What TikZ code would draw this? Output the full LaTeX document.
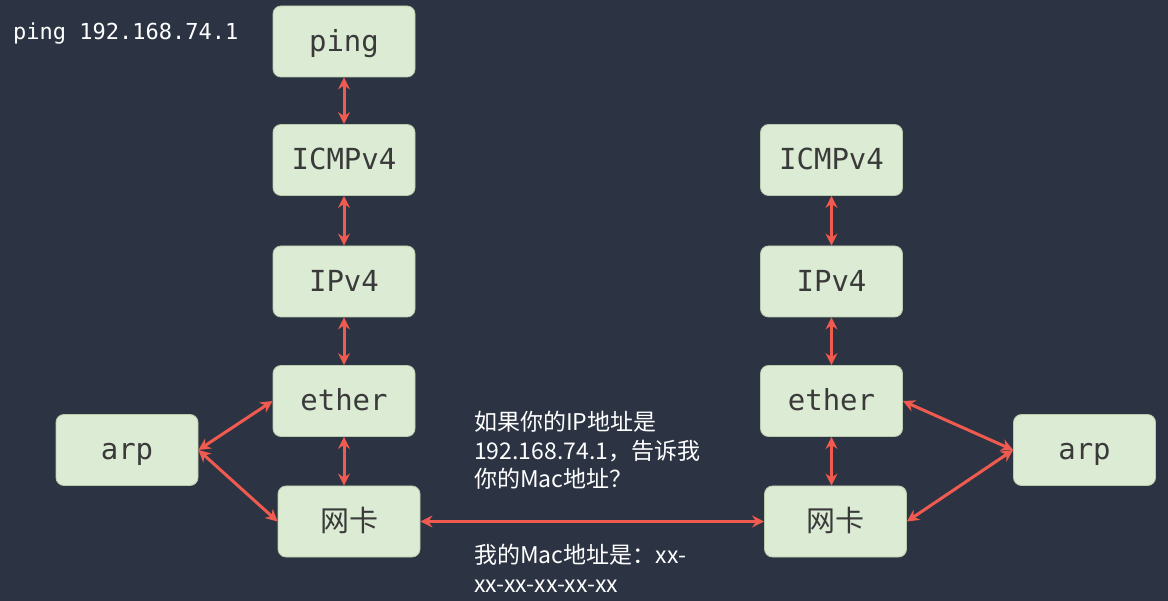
\documentclass[tikz,border=0pt]{standalone}
\usepackage{fontspec}
\setmonofont{DejaVu Sans Mono}
\newfontfamily\cjk{Noto Sans CJK SC}
\usetikzlibrary{arrows.meta}
\definecolor{bg}{HTML}{2C3444}
\definecolor{boxfill}{HTML}{DCEBD3}
\definecolor{boxline}{HTML}{B9CCAE}
\definecolor{arr}{HTML}{F05A4F}
\definecolor{boxtext}{HTML}{3A3A3A}
\begin{document}
\begin{tikzpicture}[x=1pt,y=-1pt,
 layer/.style={draw=boxline, line width=0.8pt, fill=boxfill, rounded corners=8pt, minimum width=142pt, minimum height=71pt, inner sep=0pt, text height=20pt, text depth=0pt, text=boxtext, font=\ttfamily\fontsize{29}{29}\selectfont},
 cnlayer/.style={layer, font=\cjk\fontsize{29}{29}\selectfont},
 link/.style={draw=arr, line width=3pt, {Stealth[length=12pt,width=12pt]}-{Stealth[length=12pt,width=12pt]}},
 note/.style={text=white, font=\cjk\fontsize{23}{28.5}\selectfont, align=left, anchor=north west, inner sep=0pt}]
\fill[bg] (0,0) rectangle (1168,601);
\useasboundingbox (0,0) rectangle (1168,601);

\node[text=white, font=\ttfamily\fontsize{22}{22}\selectfont, anchor=west, inner sep=0pt] (cmd) at (13,34) {ping 192.168.74.1};

\node[layer] (ping) at (344,41.5) {ping};
\node[layer] (icmpL) at (344,160) {ICMPv4};
\node[layer] (ipL) at (344,281.5) {IPv4};
\node[layer] (etherL) at (344,401) {ether};
\node[cnlayer] (nicL) at (349,521.5) {网卡};
\node[layer] (arpL) at (127,450) {arp};

\node[layer] (icmpR) at (831.5,160) {ICMPv4};
\node[layer] (ipR) at (831.5,281.5) {IPv4};
\node[layer] (etherR) at (831.5,401) {ether};
\node[cnlayer] (nicR) at (835.5,521.5) {网卡};
\node[layer] (arpR) at (1084.5,450) {arp};

\draw[link] (ping) -- (icmpL);
\draw[link] (icmpL) -- (ipL);
\draw[link] (ipL) -- (etherL);
\draw[link] (etherL.south) -- (etherL.south |- nicL.north);
\draw[link] (arpL.east) -- (etherL.west);
\draw[link] (arpL.east) -- (nicL.west);
\draw[link] (nicL.east) -- (nicR.west);

\draw[link] (icmpR) -- (ipR);
\draw[link] (ipR) -- (etherR);
\draw[link] (etherR.south) -- (etherR.south |- nicR.north);
\draw[link] (arpR.west) -- (etherR.east);
\draw[link] (arpR.west) -- (nicR.east);

\node[note] (ask) at (474,411) {如果你的IP地址是\\192.168.74.1，告诉我\\你的Mac地址？};
\node[note] (reply) at (474,544) {我的Mac地址是：xx-\\xx-xx-xx-xx-xx};
\end{tikzpicture}
\end{document}
